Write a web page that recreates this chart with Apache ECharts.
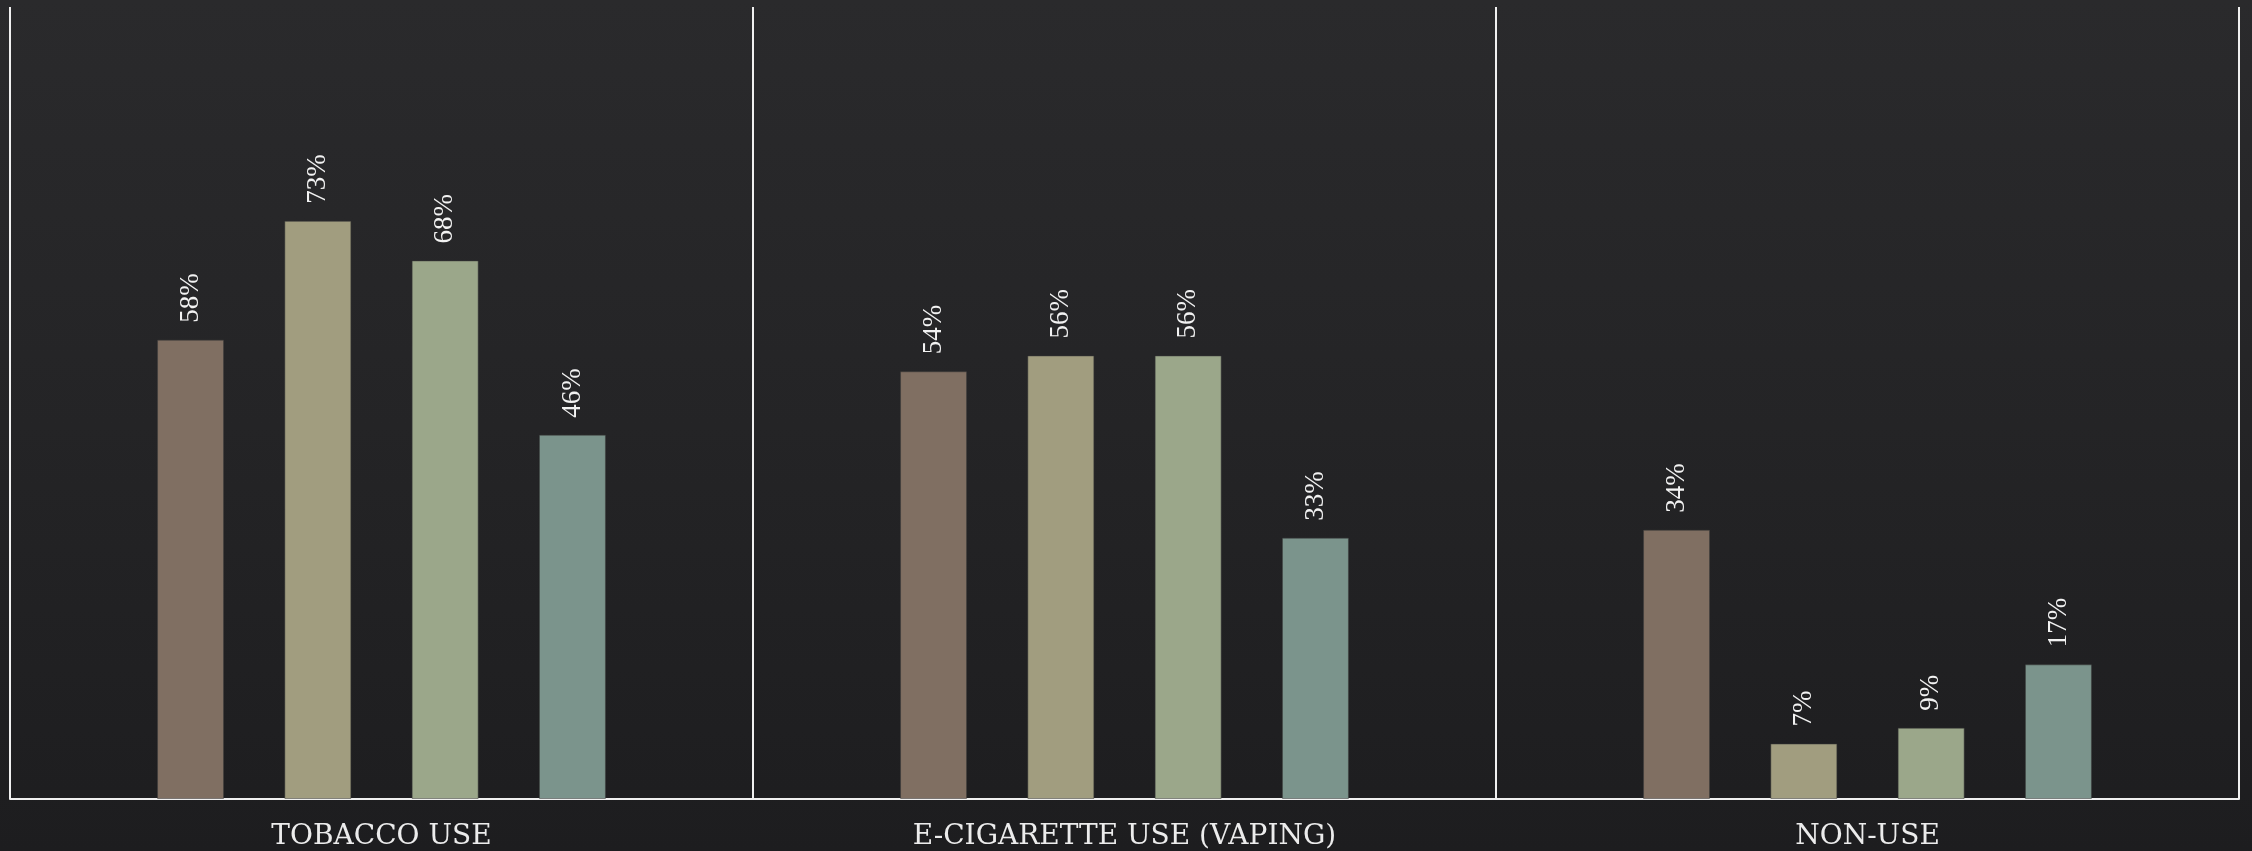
<!DOCTYPE html>
<html>
<head>
<meta charset="utf-8">
<script src="https://cdn.jsdelivr.net/npm/echarts@6/dist/echarts.min.js"></script>
<style>
html,body{margin:0;padding:0;width:2252px;height:851px;overflow:hidden;}
#c{width:2252px;height:851px;background:linear-gradient(180deg,#2a2a2c 0%,#242426 50%,#1d1d1f 100%);}
</style>
</head>
<body>
<div id="c"></div>
<script>
const categories = ['TOBACCO USE', 'E-CIGARETTE USE (VAPING)', 'NON-USE'];
const seriesA = [58, 54, 34];
const seriesB = [73, 56, 7];
const seriesC = [68, 56, 9];
const seriesD = [46, 33, 17];
const seriesNames = ['A', 'B', 'C', 'D'];
const colors = ['#806f62', '#a19d7f', '#9ba78a', '#7b948c'];
const yMax = 100;

const chart = echarts.init(document.getElementById('c'));
const labelStyle = {
  show: true,
  position: 'top',
  rotate: 90,
  align: 'left',
  verticalAlign: 'middle',
  distance: 17,
  color: '#f2f2f2',
  fontFamily: 'Liberation Serif',
  fontSize: 27,
  formatter: '{c}%'
};
const data = [seriesA, seriesB, seriesC, seriesD];
chart.setOption({
  animation: false,
  backgroundColor: 'transparent',
  grid: {left: 10, right: 13, top: 7, bottom: 52},
  xAxis: {
    type: 'category',
    data: categories,
    axisLine: {show: true, lineStyle: {color: '#f0f0f0', width: 2}},
    axisTick: {show: false},
    splitLine: {show: true, lineStyle: {color: '#f0f0f0', width: 2}},
    axisLabel: {
      color: '#ececec',
      fontFamily: 'DejaVu Serif',
      fontSize: 28,
      margin: 24
    }
  },
  yAxis: {
    type: 'value',
    min: 0,
    max: yMax,
    show: false,
    splitLine: {show: false}
  },
  series: data.map((d, i) => ({
    name: seriesNames[i],
    type: 'bar',
    data: d,
    barWidth: 67,
    barGap: '90%',
    itemStyle: {color: colors[i], borderColor: 'rgba(60,60,60,0.5)', borderWidth: 1},
    label: labelStyle
  }))
});
</script>
</body>
</html>
